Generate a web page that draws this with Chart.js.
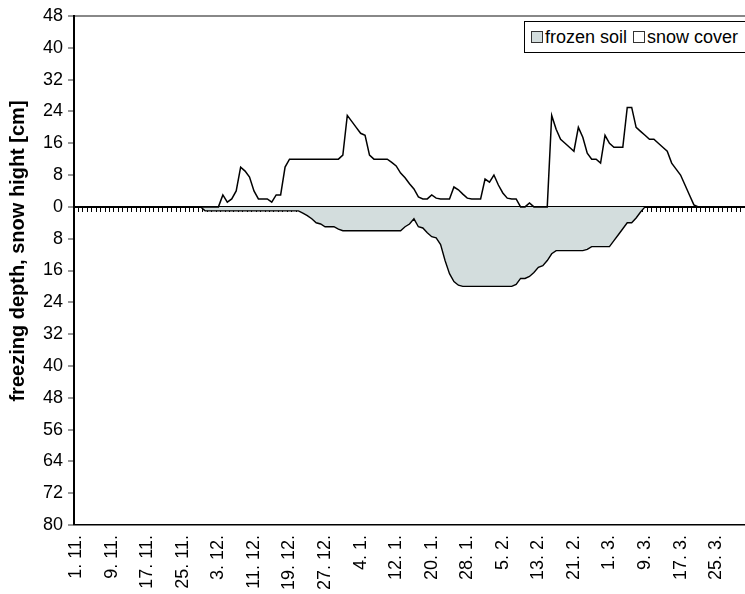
<!DOCTYPE html>
<html>
<head>
<meta charset="utf-8">
<script src="https://cdn.jsdelivr.net/npm/chart.js@4/dist/chart.umd.min.js"></script>
<style>
  html, body { margin: 0; padding: 0; background: #fff; }
  #wrap { position: relative; width: 745px; height: 594px; overflow: hidden; }
  #legend {
    position: absolute; left: 524px; top: 21px; width: 226px; height: 32px;
    box-sizing: border-box; border: 1px solid #000; background: #fff;
    font: 18px "Liberation Sans", Arial, sans-serif; color: #000;
    display: flex; align-items: center; white-space: nowrap;
  }
  .sw { display: inline-block; width: 10px; height: 10px; border: 1px solid #333; margin: 0 2px 0 6px; }
</style>
</head>
<body>
<div id="wrap">
  <canvas id="chart" width="745" height="594"></canvas>
  <div id="legend"><span class="sw" style="background:#d3dddd"></span>frozen soil<span class="sw" style="background:#fff;margin-left:6px"></span>snow cover</div>
</div>
<script>
// Winter season 1 Nov – 31 Mar, one category per day
const monthNames = ['11', '12', '1', '2', '3'];
const monthLengths = [30, 31, 31, 28, 31];
const categories = [];
monthNames.forEach((m, k) => {
  for (let d = 1; d <= monthLengths[k]; d++) categories.push(d + '. ' + m + '.');
});
const labelEvery = 8;

// Snow height [cm], daily
const snowCover = [
  0,0,0,0,0,0,0,0,0,0,            // 1.11 - 10.11
  0,0,0,0,0,0,0,0,0,0,            // 11.11 - 20.11
  0,0,0,0,0,0,0,0,0,0,            // 21.11 - 30.11
  0,0,0,3,1.2,2,4,10,9,7.5,       // 1.12 - 10.12
  4,2,2,2,1.2,3,3,10,12,12,       // 11.12 - 20.12
  12,12,12,12,12,12,12,12,12,12,  // 21.12 - 30.12
  13,23,21.5,20,18.5,18,13,12,12,12, // 31.12 - 9.1
  12,11.2,10.3,8.5,7.3,5.8,4.5,2.5,2,2, // 10.1 - 19.1
  3,2.2,2,2,2,5,4.3,3.2,2.2,2,    // 20.1 - 29.1
  2,2,7,6.2,8,5.5,3.5,2.2,2,2,    // 30.1 - 8.2
  0,0,1,0,0,0,0,23,19.5,17,       // 9.2 - 18.2
  16,15,14,20,17.5,13.5,12,12,11,18, // 19.2 - 28.2
  16,15,15,15,25,25,20,19,18,17,  // 1.3 - 10.3
  17,16,15,14,11,9.5,8,5.5,3,0.5, // 11.3 - 20.3
  0,0,0,0,0,0,0,0,0,0,0           // 21.3 - 31.3
];

// Frozen soil depth [cm], daily (drawn below zero)
const frozenSoil = [
  0,0,0,0,0,0,0,0,0,0,
  0,0,0,0,0,0,0,0,0,0,
  0,0,0,0,0,0,0,0,0,1,
  1,1,1,1,1,1,1,1,1,1,
  1,1,1,1,1,1,1,1,1,1,
  1,1.6,2.2,3,4,4.3,5,5,5,5.6,
  6,6,6,6,6,6,6,6,6,6,
  6,6,6,6,5,4.3,3,5,5.3,6.5,
  7.5,7.8,9.5,13.5,16.8,18.8,19.7,20,20,20,
  20,20,20,20,20,20,20,20,20,19.5,
  18,18,17.5,16.5,15.2,14.8,13.5,11.8,11,11,
  11,11,11,11,11,10.7,10,10,10,10,
  10,8.5,7,5.5,4,4,2.8,1.3,0,0,
  0,0,0,0,0,0,0,0,0,0,
  0,0,0,0,0,0,0,0,0,0,0
];

const yMin = -80, yMax = 48, yStep = 8;
const yTitle = 'freezing depth, snow hight [cm]';
const FONT = '"Liberation Sans", Arial, sans-serif';
const FROZEN_FILL = '#d3dddd';

// Rotated axis title placed beside the value axis
const axisTitlePlugin = {
  id: 'axisTitle',
  afterDraw(chart) {
    const { ctx } = chart;
    ctx.save();
    ctx.translate(18, 251);
    ctx.rotate(-Math.PI / 2);
    ctx.font = 'bold 20px ' + FONT;
    ctx.fillStyle = '#000';
    ctx.textAlign = 'center';
    ctx.textBaseline = 'middle';
    ctx.fillText(yTitle, 0, 0);
    ctx.restore();
  }
};

const noSidePadding = s => { s.paddingLeft = 0; s.paddingRight = 0; };

new Chart(document.getElementById('chart'), {
  type: 'line',
  data: {
    labels: categories,
    datasets: [
      {
        label: 'frozen soil',
        data: frozenSoil.map(v => -v),
        borderColor: '#000', borderWidth: 1.4,
        backgroundColor: FROZEN_FILL, fill: 'origin',
        pointRadius: 0, tension: 0, order: 2
      },
      {
        label: 'snow cover',
        data: snowCover,
        borderColor: '#000', borderWidth: 1.5,
        fill: false, pointRadius: 0, tension: 0, order: 1
      }
    ]
  },
  options: {
    responsive: false,
    animation: false,
    events: [],
    layout: { padding: { top: 16, right: 0, left: 0, bottom: 0 } },
    plugins: { legend: { display: false }, tooltip: { enabled: false } },
    scales: {
      x: {
        type: 'category', position: 'bottom', offset: true,
        grid: { display: true, drawOnChartArea: false, drawTicks: false },
        border: { display: true, color: '#000', width: 1.5 },
        ticks: {
          autoSkip: false, maxRotation: 90, minRotation: 90, padding: 10,
          color: '#000', font: { family: FONT, size: 18 },
          callback: (v, i) => (i % labelEvery === 0 ? categories[i] : '')
        },
        afterFit: s => { s.height = 69; noSidePadding(s); }
      },
      xZero: {
        type: 'category', axis: 'x', position: { y: 0 }, offset: true, z: 1,
        grid: { offset: true, drawOnChartArea: false, drawTicks: true, tickLength: 4, color: '#000', lineWidth: 1 },
        border: { display: true, color: '#000', width: 2 },
        ticks: { display: false },
        afterFit: noSidePadding
      },
      y: {
        min: yMin, max: yMax, position: 'left',
        ticks: {
          stepSize: yStep, padding: 5, color: '#000',
          font: { family: FONT, size: 18 },
          callback: v => Math.abs(v)
        },
        grid: {
          drawOnChartArea: true, drawTicks: true, tickLength: 6,
          tickColor: '#333', tickWidth: 1,
          color: c => (c.tick && c.tick.value === yMax ? '#888' : 'rgba(0,0,0,0)'),
          lineWidth: c => (c.tick && c.tick.value === yMax ? 2 : 0)
        },
        border: { display: true, color: '#000', width: 2 },
        afterFit: s => { s.width = 74; }
      }
    }
  },
  plugins: [axisTitlePlugin]
});
</script>
</body>
</html>
